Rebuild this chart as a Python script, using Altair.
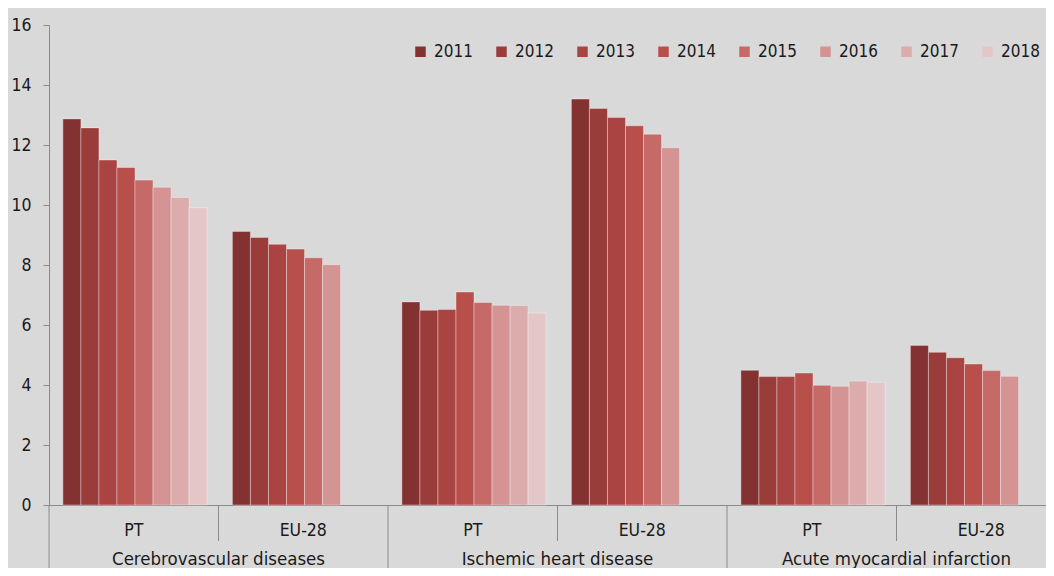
import altair as alt
import pandas as pd

years = ["2011", "2012", "2013", "2014", "2015", "2016", "2017", "2018"]
colors = ["#843131", "#993c3a", "#a94443", "#b94f4b", "#c66a68", "#d39493", "#dcacac", "#e5c6c7"]
diseases = ["Cerebrovascular diseases", "Ischemic heart disease", "Acute myocardial infarction"]
regions = ["PT", "EU-28"]

cerebro_pt = [12.87, 12.57, 11.50, 11.25, 10.83, 10.59, 10.25, 9.91]
cerebro_eu = [9.12, 8.92, 8.69, 8.53, 8.24, 8.01]
ihd_pt = [6.77, 6.49, 6.52, 7.10, 6.75, 6.66, 6.65, 6.40]
ihd_eu = [13.53, 13.22, 12.92, 12.64, 12.36, 11.91]
ami_pt = [4.49, 4.28, 4.28, 4.40, 3.99, 3.96, 4.13, 4.09]
ami_eu = [5.32, 5.09, 4.91, 4.70, 4.48, 4.29]

series = {
    ("Cerebrovascular diseases", "PT"): cerebro_pt,
    ("Cerebrovascular diseases", "EU-28"): cerebro_eu,
    ("Ischemic heart disease", "PT"): ihd_pt,
    ("Ischemic heart disease", "EU-28"): ihd_eu,
    ("Acute myocardial infarction", "PT"): ami_pt,
    ("Acute myocardial infarction", "EU-28"): ami_eu,
}

keys = [d + "|" + r for d in diseases for r in regions]
rows = []
for (d, r), vals in series.items():
    for y, v in zip(years, vals):
        rows.append({"key": d + "|" + r, "year": y, "value": v})
df = pd.DataFrame(rows)

labels_df = pd.DataFrame({"disease": diseases, "key": [d + "|EU-28" for d in diseases]})
major_df = pd.DataFrame({"key": [d + "|PT" for d in diseases]})
minor_df = pd.DataFrame({"key": [d + "|EU-28" for d in diseases]})

FONT = "DejaVu Sans Condensed, Liberation Sans"
GRAY = "#8a8a8a"
TXT = "#1a1a1a"
H = 480

xscale = alt.Scale(domain=keys, range=[0, 1017], paddingInner=0, paddingOuter=0)

bars = alt.Chart(df).mark_bar(stroke="white", strokeOpacity=0.35, strokeWidth=1).encode(
    x=alt.X("key:N", scale=xscale, sort=keys,
            axis=alt.Axis(title=None, labelExpr="split(datum.label, '|')[1]", labelAngle=0,
                          ticks=False, domain=True, domainColor=GRAY, labelFontSize=17.5,
                          labelFont=FONT, labelColor=TXT, labelBaseline="middle",
                          labelPadding=25, grid=False)),
    xOffset=alt.XOffset("year:N", scale=alt.Scale(domain=years, paddingInner=0,
                                                   paddingOuter=0.7, align=0.55)),
    y=alt.Y("value:Q", scale=alt.Scale(domain=[0, 16], nice=False),
            axis=alt.Axis(title=None, values=list(range(0, 17, 2)), grid=False,
                          domainColor=GRAY, tickColor=GRAY, tickSize=6, labelPadding=12,
                          labelFontSize=17.5, labelFont=FONT, labelColor=TXT)),
    color=alt.Color("year:N", scale=alt.Scale(domain=years, range=colors),
                    legend=alt.Legend(title=None, orient="none", legendX=363, legendY=18,
                                      direction="horizontal", symbolType="square",
                                      symbolSize=110, symbolStrokeWidth=0,
                                      labelFontSize=17, labelFont=FONT, labelColor=TXT,
                                      columnPadding=20, labelOffset=5, padding=0)),
)

major = alt.Chart(major_df).mark_rule(color=GRAY, strokeWidth=1).encode(
    x=alt.X("key:N", scale=xscale, sort=keys, bandPosition=0),
    y=alt.value(H), y2=alt.value(H + 63),
)
minor = alt.Chart(minor_df).mark_rule(color=GRAY, strokeWidth=1).encode(
    x=alt.X("key:N", scale=xscale, sort=keys, bandPosition=0),
    y=alt.value(H), y2=alt.value(H + 36),
)
texts = alt.Chart(labels_df).mark_text(fontSize=18.5, font=FONT, color=TXT, baseline="middle").encode(
    x=alt.X("key:N", scale=xscale, sort=keys, bandPosition=0),
    y=alt.value(H + 54),
    text="disease:N",
)

chart = alt.layer(bars, major, minor, texts).properties(
    width=997, height=H,
    autosize=alt.AutoSizeParams(type="none"),
    padding={"left": 41, "top": 17, "right": 0, "bottom": 63},
).configure(background="#d9d9d9").configure_view(stroke=None)

chart.save("out.html", embed_options={"renderer": "svg", "actions": False})
